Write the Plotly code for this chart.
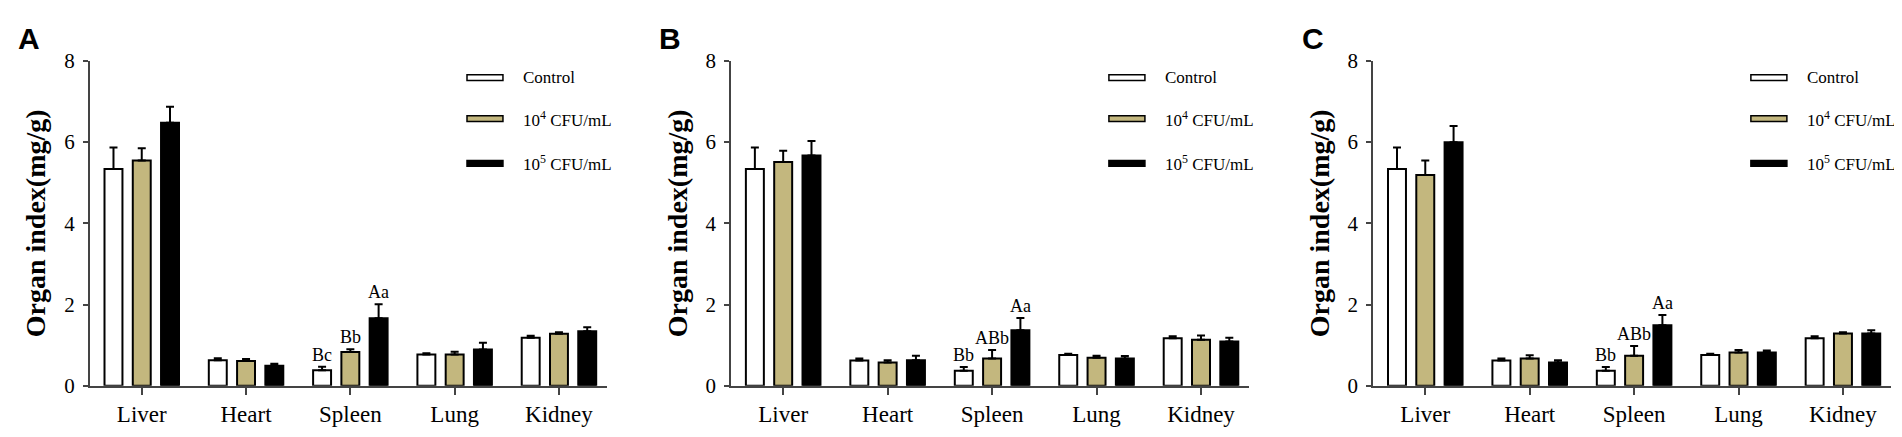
import plotly.graph_objects as go
from plotly.subplots import make_subplots

organs = ["Liver", "Heart", "Spleen", "Lung", "Kidney"]
groups = ["Control", "10<sup>4</sup> CFU/mL", "10<sup>5</sup> CFU/mL"]
panel_names = ["A", "B", "C"]

# panel A
a_ctrl = [5.34, 0.63, 0.38, 0.77, 1.18]
a_ctrl_err = [0.53, 0.05, 0.09, 0.03, 0.05]
a_low = [5.55, 0.61, 0.83, 0.77, 1.28]
a_low_err = [0.30, 0.05, 0.07, 0.07, 0.04]
a_high = [6.48, 0.49, 1.66, 0.89, 1.34]
a_high_err = [0.39, 0.05, 0.35, 0.17, 0.10]
a_spleen_labels = ["Bc", "Bb", "Aa"]

# panel B
b_ctrl = [5.34, 0.62, 0.37, 0.76, 1.17]
b_ctrl_err = [0.53, 0.05, 0.09, 0.03, 0.05]
b_low = [5.51, 0.57, 0.67, 0.69, 1.13]
b_low_err = [0.28, 0.06, 0.21, 0.05, 0.11]
b_high = [5.67, 0.63, 1.37, 0.67, 1.09]
b_high_err = [0.36, 0.11, 0.30, 0.06, 0.09]
b_spleen_labels = ["Bb", "ABb", "Aa"]

# panel C
c_ctrl = [5.34, 0.62, 0.37, 0.76, 1.17]
c_ctrl_err = [0.53, 0.05, 0.09, 0.03, 0.05]
c_low = [5.19, 0.67, 0.74, 0.82, 1.29]
c_low_err = [0.36, 0.08, 0.24, 0.06, 0.03]
c_high = [6.00, 0.57, 1.49, 0.82, 1.29]
c_high_err = [0.40, 0.06, 0.25, 0.05, 0.08]
c_spleen_labels = ["Bb", "ABb", "Aa"]

y_ticks = [0, 2, 4, 6, 8]

panels = [
    ([a_ctrl, a_low, a_high], [a_ctrl_err, a_low_err, a_high_err], a_spleen_labels),
    ([b_ctrl, b_low, b_high], [b_ctrl_err, b_low_err, b_high_err], b_spleen_labels),
    ([c_ctrl, c_low, c_high], [c_ctrl_err, c_low_err, c_high_err], c_spleen_labels),
]

fills = ["white", "#c3b77e", "black"]
serif = "Liberation Serif"
axis_col = "#444444"
bargap = 0.187
slot = (1 - bargap) / 3

fig = make_subplots(rows=1, cols=3)

x_domains = [[0.0429, 0.3149], [0.3801, 0.6525], [0.7177, 0.9900]]

for p, (means, errs, labels) in enumerate(panels):
    col = p + 1
    for g in range(3):
        fig.add_trace(go.Bar(
            x=organs, y=means[g], name=groups[g],
            marker=dict(color=fills[g], line=dict(color="black", width=2)),
            error_y=dict(type="data", array=errs[g], arrayminus=[0] * len(organs),
                         symmetric=False, color="black", thickness=2, width=4),
            showlegend=False,
        ), row=1, col=col)

    sfx = "" if p == 0 else str(col)
    xr, yr = "x" + sfx, "y" + sfx
    si = organs.index("Spleen")
    for g in range(3):
        fig.add_annotation(
            x=si + (g - 1) * slot, y=means[g][si] + errs[g][si],
            xref=xr, yref=yr, text=labels[g], showarrow=False,
            yanchor="bottom", yshift=0,
            font=dict(family=serif, size=18, color="black"))

    # legend drawn by hand (wide flat swatches)
    leg_y = [0.9485, 0.8225, 0.6846]
    for g in range(3):
        fig.add_shape(type="rect", xref=xr + " domain", yref=yr + " domain",
                      x0=0.7295, x1=0.799, y0=leg_y[g] - 0.009, y1=leg_y[g] + 0.009,
                      fillcolor=fills[g], line=dict(color="black", width=1.5))
        fig.add_annotation(x=0.834, y=leg_y[g], xref=xr + " domain", yref=yr + " domain",
                           text=groups[g], showarrow=False, xanchor="left", yanchor="middle",
                           font=dict(family=serif, size=17, color="black"))

    fig.add_annotation(x=-0.142, y=1.068, xref=xr + " domain", yref=yr + " domain",
                       text="<b>" + panel_names[p] + "</b>", showarrow=False,
                       xanchor="left", yanchor="middle",
                       font=dict(family="Liberation Sans", size=30, color="black"))

    fig.update_xaxes(domain=x_domains[p], range=[-0.5, 4.46], showline=True,
                     linecolor=axis_col, linewidth=1.5, ticks="outside", ticklen=7,
                     tickwidth=1.5, tickcolor=axis_col, showgrid=False, zeroline=False,
                     tickfont=dict(family=serif, size=23, color="black"),
                     row=1, col=col)
    fig.update_yaxes(domain=[0.1144, 0.9009], range=[0, 8], tickvals=y_ticks,
                     showline=True, linecolor=axis_col, linewidth=1.5, ticks="outside",
                     ticklen=5, tickwidth=1.5, tickcolor=axis_col, showgrid=False,
                     zeroline=False, ticklabelstandoff=4,
                     tickfont=dict(family=serif, size=21, color="black"),
                     title=dict(text="<b>Organ index(mg/g)</b>", standoff=10,
                                font=dict(family=serif, size=28, color="black")),
                     row=1, col=col)

fig.update_layout(
    width=1902, height=437,
    margin=dict(l=0, r=0, t=0, b=0),
    barmode="group", bargap=bargap, bargroupgap=0.365,
    plot_bgcolor="white", paper_bgcolor="white",
    showlegend=False,
)

fig.write_html("out.html")
